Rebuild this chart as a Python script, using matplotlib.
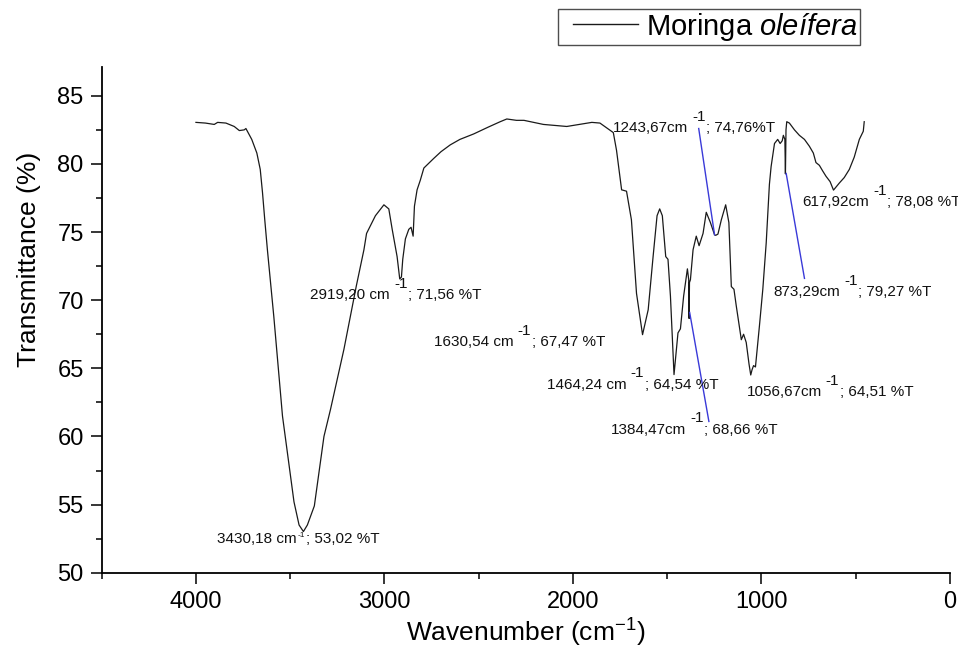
import matplotlib
matplotlib.use("Agg")
import matplotlib.pyplot as plt
from matplotlib.ticker import MultipleLocator

plt.rcParams['font.family'] = ['Liberation Sans', 'DejaVu Sans']
plt.rcParams['mathtext.fontset'] = 'custom'
plt.rcParams['mathtext.rm'] = 'Liberation Sans'
plt.rcParams['mathtext.it'] = 'Liberation Sans:italic'

# ---------------- data ----------------
wavenumber = [4000, 3950, 3903, 3885, 3841, 3797, 3770, 3744, 3735, 3704, 3677, 3659,
              3647, 3635, 3621, 3587, 3541, 3480, 3453, 3430, 3409, 3372, 3321, 3286,
              3215, 3150, 3109, 3095, 3048, 3003, 2977, 2959, 2933, 2919, 2910, 2903,
              2889, 2871, 2859, 2848, 2841, 2827, 2810, 2791, 2739, 2700, 2651, 2600,
              2527, 2450, 2386, 2351, 2300, 2260, 2157, 2033, 1900, 1857, 1786, 1769,
              1742, 1716, 1690, 1663, 1631, 1601, 1575, 1554, 1540, 1526, 1508, 1496,
              1483, 1464, 1443, 1430, 1413, 1393, 1386, 1384, 1382, 1377, 1363, 1346,
              1331, 1310, 1293, 1271, 1249, 1243, 1231, 1213, 1190, 1173, 1160, 1146,
              1134, 1107, 1095, 1081, 1066, 1057, 1050, 1042, 1032, 1011, 993, 975, 958,
              949, 931, 914, 901, 890, 884, 876, 873, 870, 866, 852, 825, 799, 772, 746,
              725, 711, 693, 676, 658, 636, 618, 587, 561, 534, 508, 481, 460, 455]
transmittance = [83.05, 83.0, 82.9, 83.05, 83.0, 82.75, 82.45, 82.5, 82.6, 81.8, 80.8, 79.6,
                 77.9, 75.9, 73.7, 68.8, 61.5, 55.2, 53.5, 53.02, 53.5, 54.9, 60.0, 62.0,
                 66.4, 71.0, 73.7, 74.9, 76.2, 77.0, 76.7, 75.2, 73.2, 71.56, 71.7, 73.0,
                 74.5, 75.2, 75.35, 74.7, 76.9, 78.1, 78.8, 79.7, 80.4, 80.9, 81.4, 81.8,
                 82.2, 82.7, 83.1, 83.3, 83.2, 83.2, 82.9, 82.75, 83.05, 83.0, 82.3, 81.0,
                 78.1, 78.0, 75.9, 70.5, 67.47, 69.3, 73.2, 76.2, 76.7, 76.2, 73.2, 73.0,
                 70.3, 64.54, 67.6, 67.9, 70.3, 72.3, 71.5, 68.66, 71.3, 71.5, 73.7, 74.7,
                 74.0, 74.9, 76.45, 75.7, 74.8, 74.76, 74.85, 75.9, 77.0, 75.7, 71.0, 70.8,
                 69.6, 67.1, 67.5, 66.9, 65.3, 64.51, 64.9, 65.2, 65.1, 68.1, 70.8, 74.2, 78.5,
                 79.8, 81.5, 81.8, 81.5, 81.7, 82.1, 81.8, 79.27, 82.5, 83.1, 83.0, 82.5, 82.1, 81.8, 81.3,
                 80.8, 80.1, 79.9, 79.5, 79.1, 78.7, 78.08, 78.6, 79.0, 79.6, 80.5, 81.8, 82.4, 83.1]

series_label = "Moringa $\\mathit{oleífera}$"

# peak annotations
peak_wn = ["3430,18", "2919,20", "1630,54", "1464,24", "1384,47", "1056,67", "873,29", "617,92", "1243,67"]
peak_T = ["53,02", "71,56", "67,47", "64,54", "68,66", "64,51", "79,27", "78,08", "74,76"]
peak_cm = [" cm", " cm", " cm", " cm", "cm", "cm", "cm", "cm", "cm"]
peak_sep = [" %T", " %T", " %T", " %T", " %T", " %T", " %T", " %T", "%T"]

# ---------------- layout ----------------
W, H, DPI = 958, 651, 100
fig = plt.figure(figsize=(W / DPI, H / DPI), dpi=DPI)
ax_l, ax_r, ax_b, ax_t = 101.7, 950.0, 572.7, 67.2
ax = fig.add_axes([ax_l / W, 1 - ax_b / H, (ax_r - ax_l) / W, (ax_b - ax_t) / H])

ax.plot(wavenumber, transmittance, color='#1a1a1a', lw=0.9, label=series_label)

ax.set_xlim(4500, 0)
ax.set_ylim(50, 87.1)
ax.spines['top'].set_visible(False)
ax.spines['right'].set_visible(False)
for s in ('left', 'bottom'):
    ax.spines[s].set_linewidth(1.3)
ax.xaxis.set_major_locator(MultipleLocator(1000))
ax.xaxis.set_minor_locator(MultipleLocator(500))
ax.yaxis.set_major_locator(MultipleLocator(5))
ax.yaxis.set_minor_locator(MultipleLocator(2.5))
ax.tick_params(which='major', direction='out', length=8, width=1.1, labelsize=17, pad=5)
ax.tick_params(which='minor', direction='out', length=4.5, width=1.1)
ax.set_xlabel("Wavenumber (cm$^{-1}$)", fontsize=19, labelpad=3)
ax.set_ylabel("Transmittance (%)", fontsize=19)
ax.yaxis.set_label_coords(-0.071, 0.62)

fs_leg = 21
leg = ax.legend(loc='upper left', bbox_to_anchor=(0.538, 1.116), borderaxespad=0,
                fontsize=fs_leg, frameon=True, fancybox=False, handlelength=2.67,
                handletextpad=0.28, borderpad=0.07)
leg.get_frame().set_edgecolor('#222222')
leg.get_frame().set_linewidth(1.0)
for h in leg.get_lines():
    h.set_linewidth(1.0)
    y0 = h.get_ydata()[0]
    h.set_data([9.5, 2.67 * fs_leg], [y0, y0])

# annotation label positions (data coords of label start, vertical centre)
label_pos = [(3886, 52.5), (3394, 70.4), (2737, 66.9), (2139, 63.8), (1800, 60.5),
             (1080, 63.25), (937, 70.6), (784, 77.2), (1789, 82.65)]
gap_before = [0.5, 3, 3, 3, 3, 3, 3, 3, 3]
sup_y = [0.5, 0.8, 0.8, 0.8, 0.8, 0.8, 0.8, 0.8, 0.8]
for i in range(len(peak_wn)):
    x, y = label_pos[i]
    t1 = ax.text(x, y, peak_wn[i] + peak_cm[i], fontsize=11, va='center', ha='left',
                 color='#111111')
    t2 = ax.annotate("-1", xy=(1, sup_y[i]), xycoords=t1, xytext=(gap_before[i], 0),
                     textcoords='offset points', fontsize=11 if i else 6,
                     va='bottom', ha='left', color='#111111')
    ax.annotate("; " + peak_T[i] + peak_sep[i], xy=(1, 0), xycoords=(t2, t1),
                xytext=(0.5, 0), textcoords='offset points', fontsize=11,
                va='bottom', ha='left', color='#111111', annotation_clip=False)

# leader lines: peak -> label
leader_peaks = [(1249, 74.8), (869, 79.3), (1381, 69.1)]
leader_ends = [(1333, 82.6), (772, 71.6), (1279, 61.1)]
for (px, py), (ex, ey) in zip(leader_peaks, leader_ends):
    ax.plot([px, ex], [py, ey], color='#3a3ad8', lw=1.0)

fig.savefig("out.png", dpi=DPI)
